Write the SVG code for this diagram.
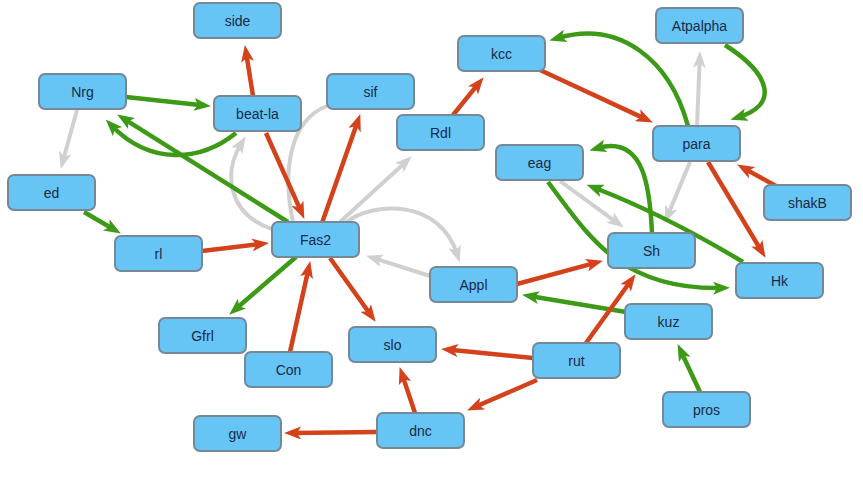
<svg xmlns="http://www.w3.org/2000/svg" width="863" height="486" viewBox="0 0 863 486">
<style>
.n rect{fill:#66c5f5;stroke:#768896;stroke-width:2}
.n text{font-family:"Liberation Sans",Arial,sans-serif;font-size:14px;fill:#1b2a47;text-anchor:middle}
.r{fill:none;stroke:#d4421c;stroke-width:4.5;marker-end:url(#mr)}
.g{fill:none;stroke:#3d9a17;stroke-width:4.5;marker-end:url(#mg)}
.y{fill:none;stroke:#d0d0d0;stroke-width:4;marker-end:url(#my)}
</style>
<defs>
<marker id="mr" viewBox="0 0 17 13" refX="8" refY="6.5" markerWidth="17" markerHeight="13" markerUnits="userSpaceOnUse" orient="auto"><path d="M0,0 L17,6.5 L0,13 L4,6.5 z" fill="#d4421c"/></marker>
<marker id="mg" viewBox="0 0 17 13" refX="8" refY="6.5" markerWidth="17" markerHeight="13" markerUnits="userSpaceOnUse" orient="auto"><path d="M0,0 L17,6.5 L0,13 L4,6.5 z" fill="#3d9a17"/></marker>
<marker id="my" viewBox="0 0 17 13" refX="8" refY="6.5" markerWidth="17" markerHeight="13" markerUnits="userSpaceOnUse" orient="auto"><path d="M0,0 L17,6.5 L0,13 L4,6.5 z" fill="#d0d0d0"/></marker>
</defs>
<rect width="863" height="486" fill="#ffffff"/>
<g id="connectors">
<path class="y" d="M77,110 L63.1,160.3"/>
<path class="y" d="M272,229 C230,215 222,175 241,144"/>
<path class="y" d="M293,222 C282,170 290,120 327,106" style="marker-end:none"/>
<path class="y" d="M340,222 L405.1,162.4"/>
<path class="y" d="M345,223 C375,200 440,200 457,254"/>
<path class="y" d="M430,276 L374.6,258.4"/>
<path class="y" d="M697,126 L699.7,60"/>
<path class="y" d="M690,162 L668.1,214.6"/>
<path class="y" d="M560,181 L616.5,222.3"/>
<path class="g" d="M126,97 L202,105.2"/>
<path class="g" d="M236,133 C200,162 150,165 112,126"/>
<path class="g" d="M288,222 L124.8,119.3"/>
<path class="g" d="M84,212 L113.1,229"/>
<path class="g" d="M296,257 L236,308.8"/>
<path class="g" d="M725,45 C772,75 778,105 739,117"/>
<path class="g" d="M688,126 C670,60 620,20 558,38"/>
<path class="g" d="M652,233 C650,190 645,135 598,148"/>
<path class="g" d="M548,182 C588,235 620,290 721,288"/>
<path class="g" d="M743,262 Q665,215 595,188"/>
<path class="g" d="M626,312 L530.9,296.3"/>
<path class="g" d="M700,392 L681.4,352.2"/>
<path class="r" d="M253,96 L246.3,53.9"/>
<path class="r" d="M266,133 L300.7,210.7"/>
<path class="r" d="M322,223 L357.3,122.5"/>
<path class="r" d="M202,251 L260.1,244"/>
<path class="r" d="M290,352 L308.3,269.8"/>
<path class="r" d="M330,258 L370.4,314.5"/>
<path class="r" d="M453,115 L478,84.2"/>
<path class="r" d="M540,70 L644.7,118.6"/>
<path class="r" d="M708,162 L760.9,250.1"/>
<path class="r" d="M776,186 L745,168.9"/>
<path class="r" d="M517,284 L594.3,263.1"/>
<path class="r" d="M586,343 L630.3,281.5"/>
<path class="r" d="M533,358 L450,349.8"/>
<path class="r" d="M537,380 L475.3,406.8"/>
<path class="r" d="M415,413 L402.5,375.6"/>
<path class="r" d="M377,432 L293,433"/>
</g>
<g id="side" class="n"><rect x="194" y="3" width="87" height="35" rx="6"/><text x="237.5" y="25.5">side</text></g>
<g id="Nrg" class="n"><rect x="39" y="74" width="87" height="35" rx="6"/><text x="82.5" y="96.5">Nrg</text></g>
<g id="beat-la" class="n"><rect x="214" y="96" width="87" height="35" rx="6"/><text x="257.5" y="118.5">beat-la</text></g>
<g id="ed" class="n"><rect x="8" y="175" width="87" height="35" rx="6"/><text x="51.5" y="197.5">ed</text></g>
<g id="rl" class="n"><rect x="115" y="236" width="87" height="35" rx="6"/><text x="158.5" y="258.5">rl</text></g>
<g id="Fas2" class="n"><rect x="272" y="222" width="87" height="35" rx="6"/><text x="315.5" y="244.5">Fas2</text></g>
<g id="sif" class="n"><rect x="327" y="74" width="87" height="35" rx="6"/><text x="370.5" y="96.5">sif</text></g>
<g id="Rdl" class="n"><rect x="397" y="115" width="87" height="35" rx="6"/><text x="440.5" y="137.5">Rdl</text></g>
<g id="kcc" class="n"><rect x="458" y="36" width="87" height="35" rx="6"/><text x="501.5" y="58.5">kcc</text></g>
<g id="eag" class="n"><rect x="496" y="145" width="87" height="35" rx="6"/><text x="539.5" y="167.5">eag</text></g>
<g id="para" class="n"><rect x="653" y="126" width="87" height="35" rx="6"/><text x="696.5" y="148.5">para</text></g>
<g id="Atpalpha" class="n"><rect x="656" y="8" width="87" height="35" rx="6"/><text x="699.5" y="30.5">Atpalpha</text></g>
<g id="shakB" class="n"><rect x="764" y="185" width="87" height="35" rx="6"/><text x="807.5" y="207.5">shakB</text></g>
<g id="Sh" class="n"><rect x="608" y="233" width="87" height="35" rx="6"/><text x="651.5" y="255.5">Sh</text></g>
<g id="Hk" class="n"><rect x="736" y="263" width="87" height="35" rx="6"/><text x="779.5" y="285.5">Hk</text></g>
<g id="Appl" class="n"><rect x="430" y="267" width="87" height="35" rx="6"/><text x="473.5" y="289.5">Appl</text></g>
<g id="slo" class="n"><rect x="349" y="327" width="87" height="35" rx="6"/><text x="392.5" y="349.5">slo</text></g>
<g id="dnc" class="n"><rect x="377" y="413" width="87" height="35" rx="6"/><text x="420.5" y="435.5">dnc</text></g>
<g id="rut" class="n"><rect x="533" y="343" width="87" height="35" rx="6"/><text x="576.5" y="365.5">rut</text></g>
<g id="kuz" class="n"><rect x="625" y="304" width="87" height="35" rx="6"/><text x="668.5" y="326.5">kuz</text></g>
<g id="pros" class="n"><rect x="663" y="392" width="87" height="35" rx="6"/><text x="706.5" y="414.5">pros</text></g>
<g id="Gfrl" class="n"><rect x="159" y="318" width="87" height="35" rx="6"/><text x="202.5" y="340.5">Gfrl</text></g>
<g id="Con" class="n"><rect x="245" y="352" width="87" height="35" rx="6"/><text x="288.5" y="374.5">Con</text></g>
<g id="gw" class="n"><rect x="194" y="416" width="87" height="35" rx="6"/><text x="237.5" y="438.5">gw</text></g>
</svg>
